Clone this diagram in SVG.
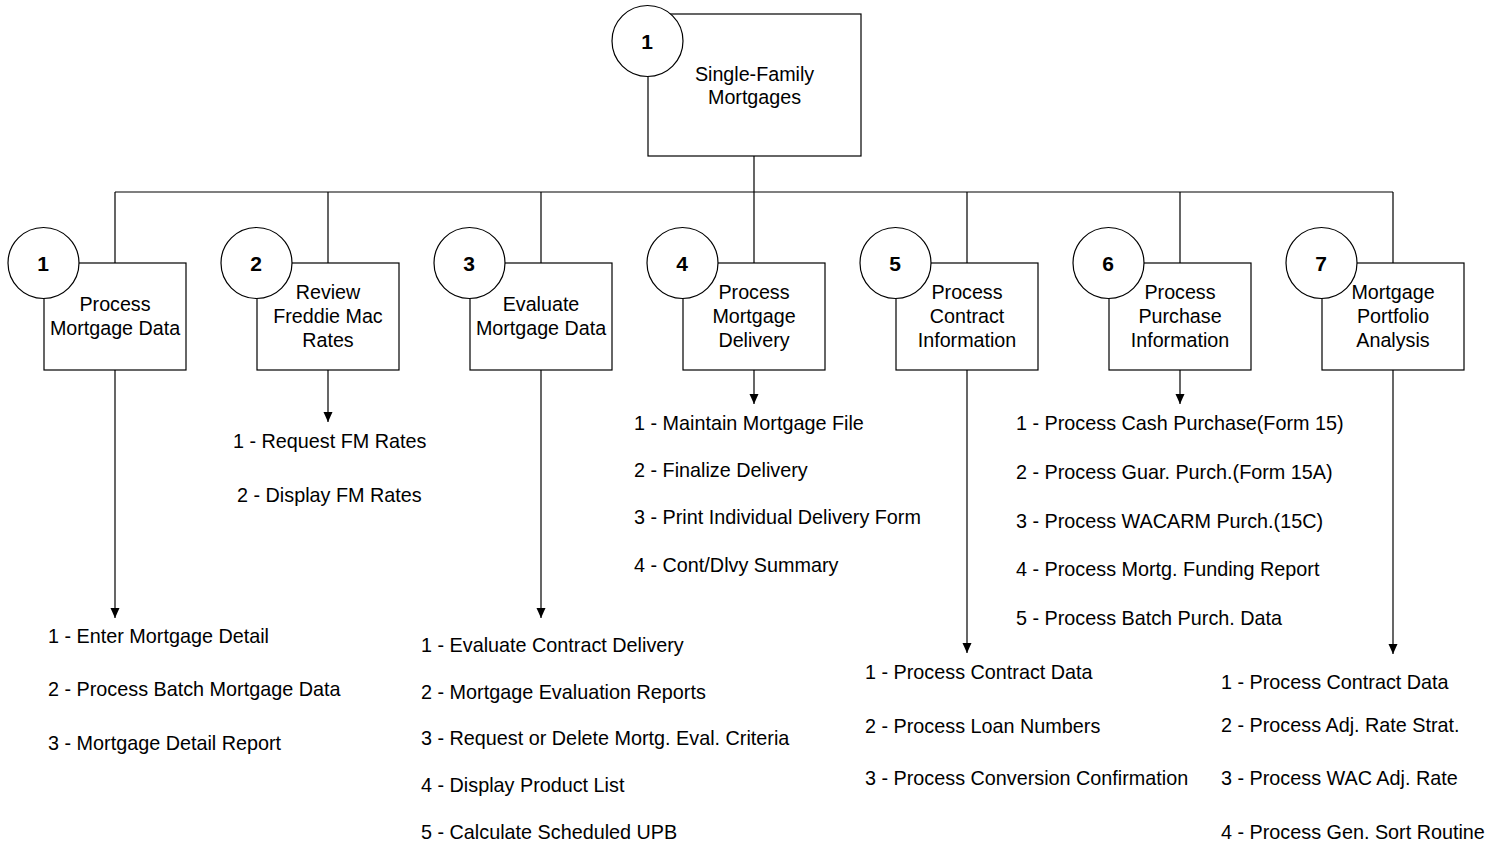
<svg xmlns="http://www.w3.org/2000/svg" width="1504" height="843" viewBox="0 0 1504 843">
<defs>
<style>
.box{fill:#fff;stroke:#000;stroke-width:1.2}
.circ{fill:#fff;stroke:#000;stroke-width:1.2}
.ln{fill:none;stroke:#000;stroke-width:1.2}
.num{font-family:"Liberation Sans",Arial,sans-serif;font-size:21px;font-weight:bold;text-anchor:middle;fill:#000}
.lbl{font-family:"Liberation Sans",Arial,sans-serif;font-size:19.7px;text-anchor:middle;fill:#000}
.item{font-family:"Liberation Sans",Arial,sans-serif;font-size:19.8px;fill:#000}
</style>
<marker id="arr" markerWidth="10" markerHeight="10" refX="10" refY="5" orient="auto" markerUnits="userSpaceOnUse">
<path d="M0,0.5 L10,5 L0,9.5 Z" fill="#000"/>
</marker>
</defs>
<rect width="1504" height="843" fill="#fff"/>
<g id="connectors">
<path class="ln" d="M754,156 V192 M115,192 H1393 M115,192 V263 M328,192 V263 M541,192 V263 M754,192 V263 M967,192 V263 M1180,192 V263 M1393,192 V263"/>
<path class="ln" d="M115,370 V618" marker-end="url(#arr)"/>
<path class="ln" d="M328,370 V422" marker-end="url(#arr)"/>
<path class="ln" d="M541,370 V618" marker-end="url(#arr)"/>
<path class="ln" d="M754,370 V404" marker-end="url(#arr)"/>
<path class="ln" d="M967,370 V653" marker-end="url(#arr)"/>
<path class="ln" d="M1180,370 V404" marker-end="url(#arr)"/>
<path class="ln" d="M1393,370 V654" marker-end="url(#arr)"/>
</g>
<g id="node-root">
<rect class="box" x="648" y="14" width="213" height="142"/>
<circle class="circ" cx="647.5" cy="41" r="35.5"/>
<text class="num" x="647" y="49">1</text>
<text class="lbl" x="754.5" y="81">Single-Family</text>
<text class="lbl" x="754.5" y="104">Mortgages</text>
</g>
<g id="node-1">
<rect class="box" x="44" y="263" width="142" height="107"/>
<circle class="circ" cx="43.5" cy="263" r="35.5"/>
<text class="num" x="43" y="271">1</text>
<text class="lbl" x="115" y="311">Process</text>
<text class="lbl" x="115" y="335">Mortgage Data</text>
</g>
<g id="node-2">
<rect class="box" x="257" y="263" width="142" height="107"/>
<circle class="circ" cx="256.5" cy="263" r="35.5"/>
<text class="num" x="256" y="271">2</text>
<text class="lbl" x="328" y="299">Review</text>
<text class="lbl" x="328" y="323">Freddie Mac</text>
<text class="lbl" x="328" y="347">Rates</text>
</g>
<g id="node-3">
<rect class="box" x="470" y="263" width="142" height="107"/>
<circle class="circ" cx="469.5" cy="263" r="35.5"/>
<text class="num" x="469" y="271">3</text>
<text class="lbl" x="541" y="311">Evaluate</text>
<text class="lbl" x="541" y="335">Mortgage Data</text>
</g>
<g id="node-4">
<rect class="box" x="683" y="263" width="142" height="107"/>
<circle class="circ" cx="682.5" cy="263" r="35.5"/>
<text class="num" x="682" y="271">4</text>
<text class="lbl" x="754" y="299">Process</text>
<text class="lbl" x="754" y="323">Mortgage</text>
<text class="lbl" x="754" y="347">Delivery</text>
</g>
<g id="node-5">
<rect class="box" x="896" y="263" width="142" height="107"/>
<circle class="circ" cx="895.5" cy="263" r="35.5"/>
<text class="num" x="895" y="271">5</text>
<text class="lbl" x="967" y="299">Process</text>
<text class="lbl" x="967" y="323">Contract</text>
<text class="lbl" x="967" y="347">Information</text>
</g>
<g id="node-6">
<rect class="box" x="1109" y="263" width="142" height="107"/>
<circle class="circ" cx="1108.5" cy="263" r="35.5"/>
<text class="num" x="1108" y="271">6</text>
<text class="lbl" x="1180" y="299">Process</text>
<text class="lbl" x="1180" y="323">Purchase</text>
<text class="lbl" x="1180" y="347">Information</text>
</g>
<g id="node-7">
<rect class="box" x="1322" y="263" width="142" height="107"/>
<circle class="circ" cx="1321.5" cy="263" r="35.5"/>
<text class="num" x="1321" y="271">7</text>
<text class="lbl" x="1393" y="299">Mortgage</text>
<text class="lbl" x="1393" y="323">Portfolio</text>
<text class="lbl" x="1393" y="347">Analysis</text>
</g>
<g id="items-1">
<text class="item" x="48" y="643">1 - Enter Mortgage Detail</text>
<text class="item" x="48" y="696">2 - Process Batch Mortgage Data</text>
<text class="item" x="48" y="750">3 - Mortgage Detail Report</text>
</g>
<g id="items-2">
<text class="item" x="233" y="448">1 - Request FM Rates</text>
<text class="item" x="237" y="502">2 - Display FM Rates</text>
</g>
<g id="items-3">
<text class="item" x="421" y="652">1 - Evaluate Contract Delivery</text>
<text class="item" x="421" y="699">2 - Mortgage Evaluation Reports</text>
<text class="item" x="421" y="745">3 - Request or Delete Mortg. Eval. Criteria</text>
<text class="item" x="421" y="792">4 - Display Product List</text>
<text class="item" x="421" y="839">5 - Calculate Scheduled UPB</text>
</g>
<g id="items-4">
<text class="item" x="634" y="430">1 - Maintain Mortgage File</text>
<text class="item" x="634" y="477">2 - Finalize Delivery</text>
<text class="item" x="634" y="524">3 - Print Individual Delivery Form</text>
<text class="item" x="634" y="572">4 - Cont/Dlvy Summary</text>
</g>
<g id="items-5">
<text class="item" x="865" y="679">1 - Process Contract Data</text>
<text class="item" x="865" y="733">2 - Process Loan Numbers</text>
<text class="item" x="865" y="785">3 - Process Conversion Confirmation</text>
</g>
<g id="items-6">
<text class="item" x="1016" y="430">1 - Process Cash Purchase(Form 15)</text>
<text class="item" x="1016" y="479">2 - Process Guar. Purch.(Form 15A)</text>
<text class="item" x="1016" y="528">3 - Process WACARM Purch.(15C)</text>
<text class="item" x="1016" y="576">4 - Process Mortg. Funding Report</text>
<text class="item" x="1016" y="625">5 - Process Batch Purch. Data</text>
</g>
<g id="items-7">
<text class="item" x="1221" y="689">1 - Process Contract Data</text>
<text class="item" x="1221" y="732">2 - Process Adj. Rate Strat.</text>
<text class="item" x="1221" y="785">3 - Process WAC Adj. Rate</text>
<text class="item" x="1221" y="839">4 - Process Gen. Sort Routine</text>
</g>
</svg>
